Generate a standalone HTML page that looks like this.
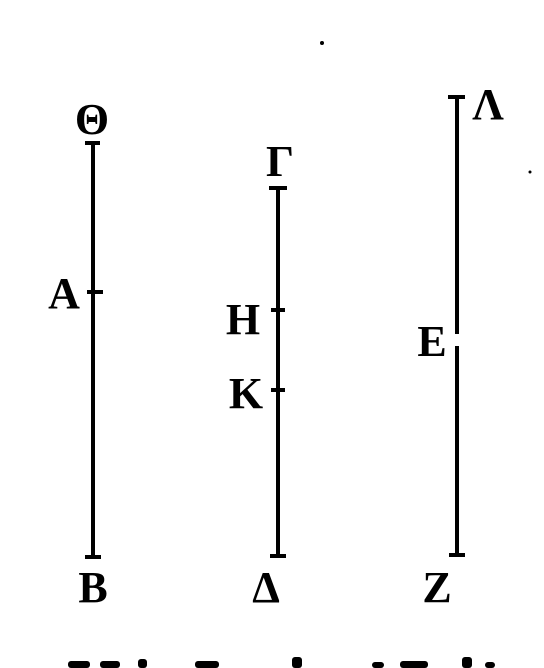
<!DOCTYPE html>
<html><head><meta charset="utf-8"><style>
html,body{margin:0;padding:0;background:#fff;width:544px;height:668px;overflow:hidden}
text{font-family:"Liberation Serif",serif;font-weight:bold;fill:#000}
</style></head><body>
<svg width="544" height="668" viewBox="0 0 544 668">
<g stroke="#000" stroke-width="4">
<line x1="93" y1="143" x2="93" y2="557"/>
<line x1="85" y1="143" x2="100" y2="143"/>
<line x1="87" y1="292" x2="103" y2="292"/>
<line x1="85" y1="557" x2="101" y2="557"/>
</g>
<g stroke="#000" stroke-width="4">
<line x1="278" y1="188" x2="278" y2="556"/>
<line x1="269" y1="188" x2="287" y2="188"/>
<line x1="271" y1="310" x2="285" y2="310"/>
<line x1="271" y1="390" x2="285" y2="390"/>
<line x1="270" y1="556" x2="286" y2="556"/>
</g>
<g stroke="#000" stroke-width="4">
<line x1="457" y1="97" x2="457" y2="334"/>
<line x1="457" y1="346" x2="457" y2="555"/>
<line x1="448" y1="97" x2="465" y2="97"/>
<line x1="449" y1="555" x2="465" y2="555"/>
</g>
<g font-size="44">
<text x="92" y="134" text-anchor="middle">Θ</text>
<text x="64" y="308" text-anchor="middle">A</text>
<text x="93" y="602" text-anchor="middle">B</text>
<text x="280" y="176" text-anchor="middle">Γ</text>
<text x="243" y="334" text-anchor="middle">H</text>
<text x="246" y="408" text-anchor="middle">K</text>
<text x="266" y="602" text-anchor="middle">Δ</text>
<text x="488" y="119" text-anchor="middle">Λ</text>
<text x="432" y="356" text-anchor="middle">E</text>
<text x="437" y="602" text-anchor="middle">Z</text>
</g>
<circle cx="322" cy="43" r="2" fill="#000"/>
<circle cx="530" cy="172" r="1.5" fill="#000"/>
<g fill="#000">
<rect x="68" y="661" width="22" height="7" rx="3"/>
<rect x="100" y="661" width="20" height="7" rx="3"/>
<rect x="138" y="659" width="9" height="9" rx="3"/>
<rect x="195" y="661" width="24" height="7" rx="3"/>
<rect x="292" y="657" width="10" height="11" rx="3"/>
<rect x="372" y="662" width="12" height="6" rx="3"/>
<rect x="400" y="661" width="28" height="7" rx="3"/>
<rect x="462" y="657" width="10" height="11" rx="3"/>
<rect x="485" y="662" width="10" height="6" rx="3"/>
</g>
</svg>
</body></html>
